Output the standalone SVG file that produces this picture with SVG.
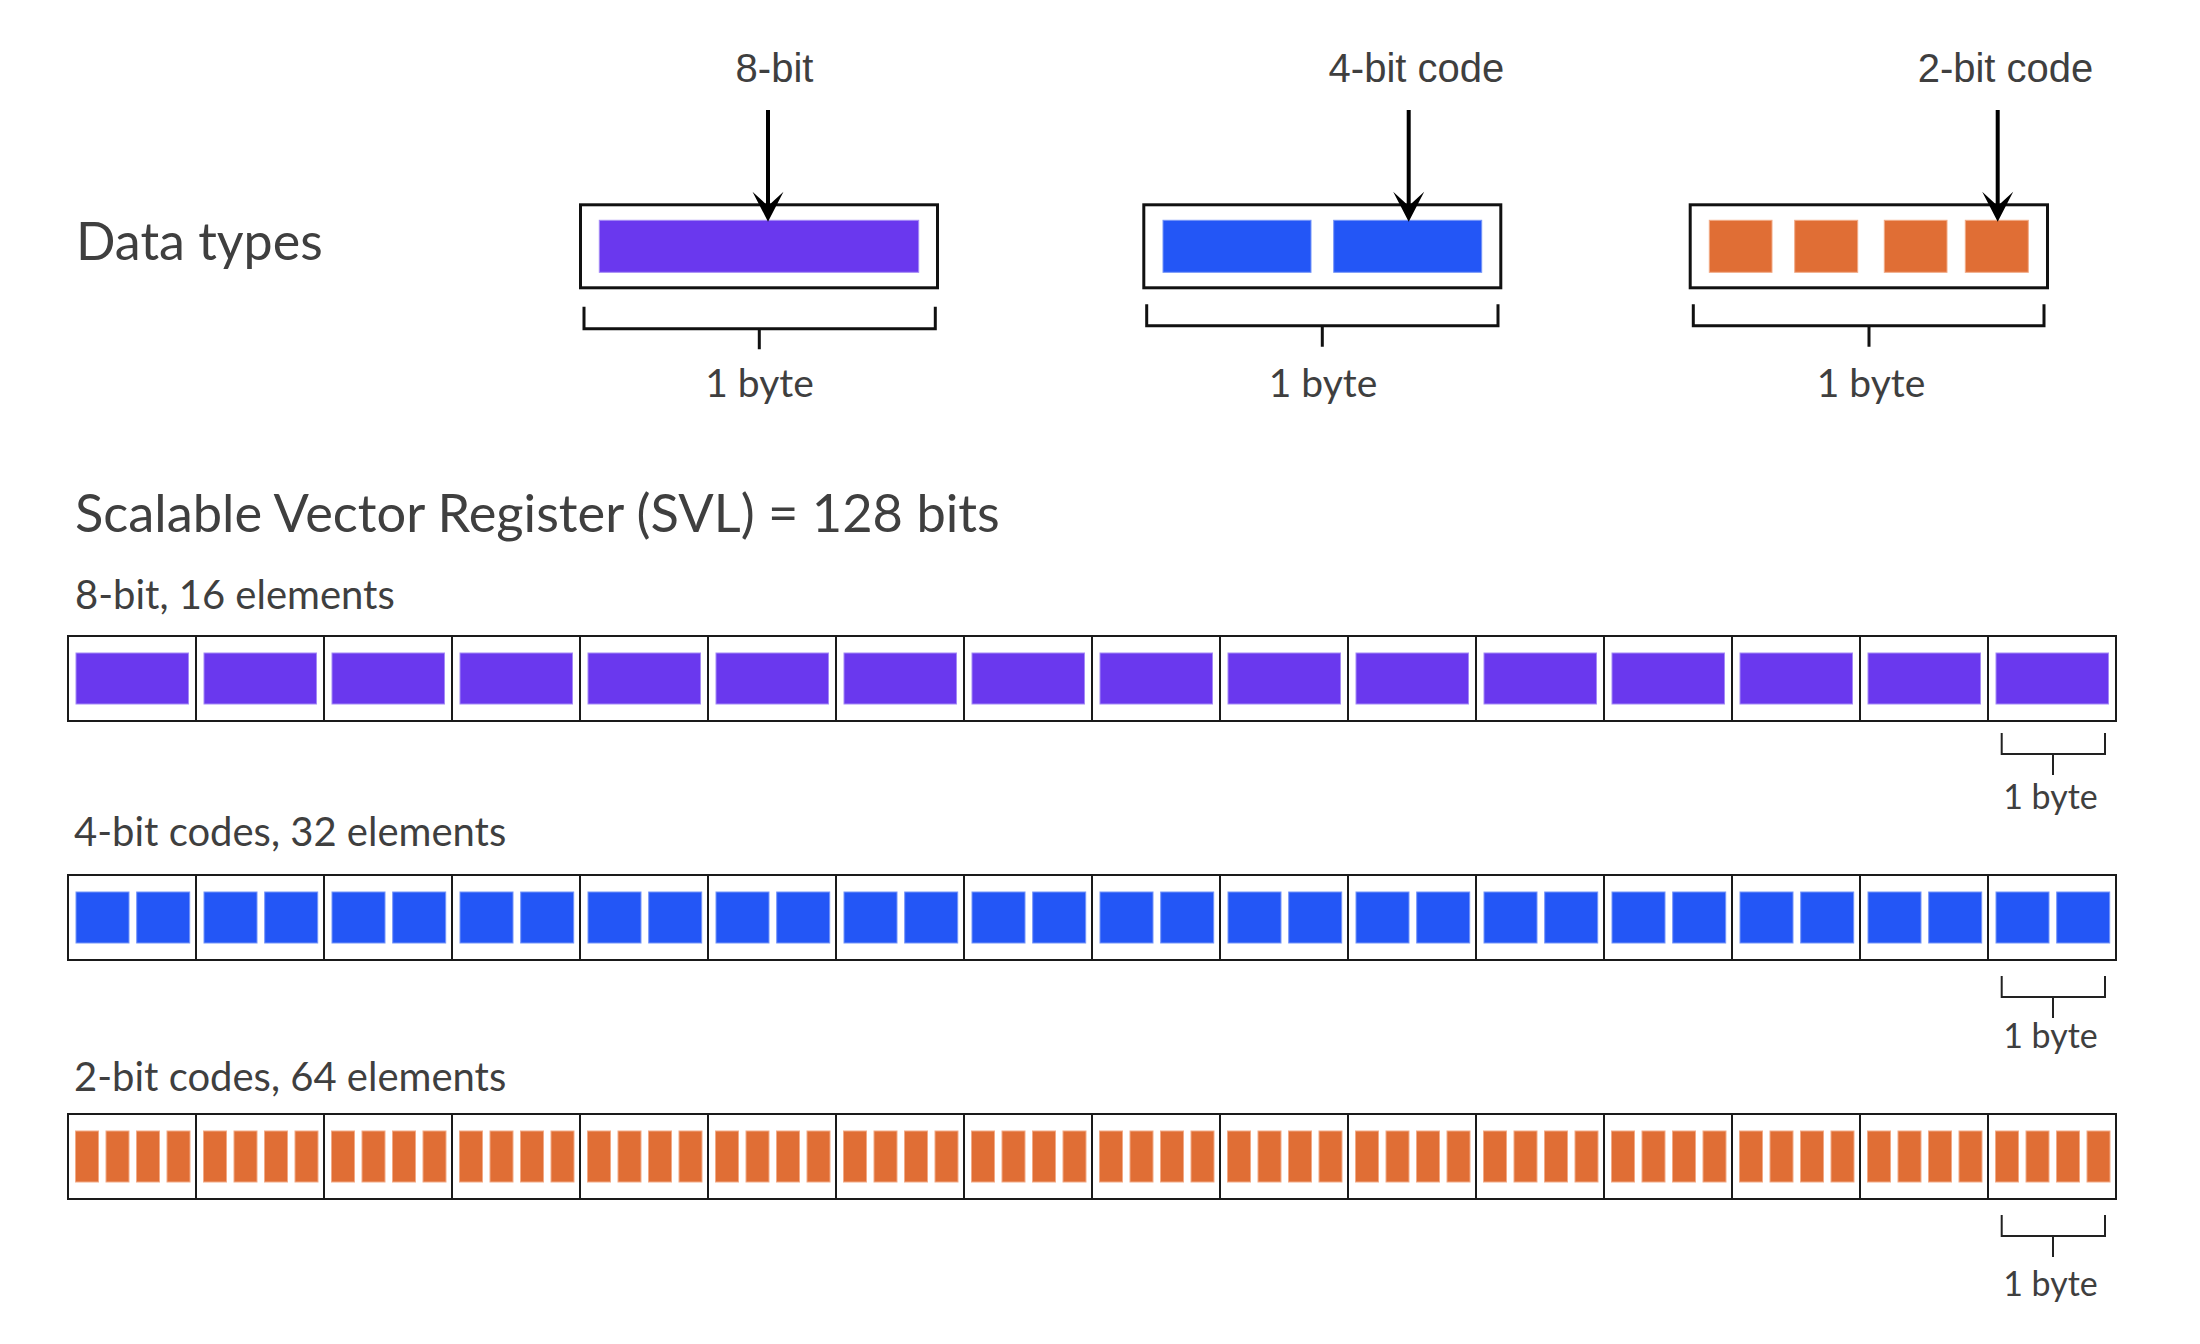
<svg xmlns="http://www.w3.org/2000/svg" width="2200" height="1344" viewBox="0 0 2200 1344">
<style>
.lato{font-family:Lato,"Noto Sans","Liberation Sans",sans-serif;fill:#3f3f3f}
.arial{font-family:"Liberation Sans",Arial,sans-serif;fill:#3f3f3f;font-size:40px;text-anchor:middle}
.h{font-size:52px}
.t{font-size:52.4px}
.sub{font-size:40px}
.b1{font-size:39px;text-anchor:middle}
.b2{font-size:34px;text-anchor:middle}
.box{fill:#fff;stroke:#111;stroke-width:3}
.cell{fill:#fff;stroke:#1a1a1a;stroke-width:2}
.p{fill:#6a38ee;stroke:#a48af6;stroke-width:1}
.bl{fill:#2356f6;stroke:#7595f8;stroke-width:1}
.o{fill:#e06e35;stroke:#f2aa86;stroke-width:1}
.br{fill:none;stroke:#111;stroke-width:3}
.brs{fill:none;stroke:#222;stroke-width:2}
.arr{fill:none;stroke:#000;stroke-width:4}
</style>
<defs>
<marker id="ah" markerUnits="userSpaceOnUse" viewBox="-16 -16 32 32" markerWidth="32" markerHeight="32" refX="0" refY="0" orient="auto">
<path d="M15.7,0 L-14.3,-15.5 L0,0 L-14.3,15.5 Z" fill="#000"/>
</marker>
<g id="c8"><rect class="cell" x="0" y="0" width="128" height="85"/><rect class="p" x="8" y="17" width="112.5" height="51"/></g>
<g id="c4"><rect class="cell" x="0" y="0" width="128" height="85"/><rect class="bl" x="8" y="17" width="53" height="51"/><rect class="bl" x="68.7" y="17" width="53" height="51"/></g>
<g id="c2"><rect class="cell" x="0" y="0" width="128" height="85"/><rect class="o" x="7.5" y="17" width="23" height="51"/><rect class="o" x="38" y="17" width="23" height="51"/><rect class="o" x="68.5" y="17" width="23" height="51"/><rect class="o" x="99" y="17" width="23" height="51"/></g>
</defs>
<rect width="2200" height="1344" fill="#fff"/>

<g id="labels">
<text class="lato h" x="76" y="260">Data types</text>
<text class="lato t" x="75" y="531.5">Scalable Vector Register (SVL) = 128 bits</text>
<text class="lato sub" x="75" y="609">8-bit, 16 elements</text>
<text class="lato sub" x="74" y="846">4-bit codes, 32 elements</text>
<text class="lato sub" x="74" y="1090.5">2-bit codes, 64 elements</text>
</g>

<g id="type8">
<text class="arial" x="774.5" y="82">8-bit</text>
<rect class="box" x="580.5" y="204.8" width="357" height="83"/>
<rect class="p" x="599.3" y="220.3" width="319.4" height="52"/>
<path class="br" d="M584,306.7 V328.7 H935.3 V306.7 M759.3,328.7 V349.3"/>
<text class="lato b1" x="759.5" y="397">1 byte</text>
</g>

<g id="type4">
<text class="arial" x="1416.4" y="82">4-bit code</text>
<rect class="box" x="1143.8" y="204.8" width="357" height="83"/>
<rect class="bl" x="1163" y="220.3" width="148" height="52"/>
<rect class="bl" x="1333.7" y="220.3" width="148" height="52"/>
<path class="br" d="M1146.7,304.3 V325.7 H1498 V304.3 M1322.3,325.7 V346.7"/>
<text class="lato b1" x="1323" y="397">1 byte</text>
</g>

<g id="type2">
<text class="arial" x="2005.5" y="82">2-bit code</text>
<rect class="box" x="1690.2" y="204.8" width="357.3" height="83"/>
<rect class="o" x="1709.3" y="220.3" width="62.7" height="52"/>
<rect class="o" x="1794.7" y="220.3" width="63" height="52"/>
<rect class="o" x="1884.3" y="220.3" width="62.7" height="52"/>
<rect class="o" x="1965.3" y="220.3" width="63" height="52"/>
<path class="br" d="M1693.3,304.3 V325.7 H2044 V304.3 M1869,325.7 V346.7"/>
<text class="lato b1" x="1871" y="397">1 byte</text>
</g>

<g id="reg8">
<use href="#c8" x="68" y="636"/><use href="#c8" x="196" y="636"/><use href="#c8" x="324" y="636"/><use href="#c8" x="452" y="636"/>
<use href="#c8" x="580" y="636"/><use href="#c8" x="708" y="636"/><use href="#c8" x="836" y="636"/><use href="#c8" x="964" y="636"/>
<use href="#c8" x="1092" y="636"/><use href="#c8" x="1220" y="636"/><use href="#c8" x="1348" y="636"/><use href="#c8" x="1476" y="636"/>
<use href="#c8" x="1604" y="636"/><use href="#c8" x="1732" y="636"/><use href="#c8" x="1860" y="636"/><use href="#c8" x="1988" y="636"/>
<path class="brs" d="M2001.7,733 V754 H2105 V733 M2053,754 V775"/>
<text class="lato b2" x="2050.5" y="809">1 byte</text>
</g>

<g id="reg4">
<use href="#c4" x="68" y="875"/><use href="#c4" x="196" y="875"/><use href="#c4" x="324" y="875"/><use href="#c4" x="452" y="875"/>
<use href="#c4" x="580" y="875"/><use href="#c4" x="708" y="875"/><use href="#c4" x="836" y="875"/><use href="#c4" x="964" y="875"/>
<use href="#c4" x="1092" y="875"/><use href="#c4" x="1220" y="875"/><use href="#c4" x="1348" y="875"/><use href="#c4" x="1476" y="875"/>
<use href="#c4" x="1604" y="875"/><use href="#c4" x="1732" y="875"/><use href="#c4" x="1860" y="875"/><use href="#c4" x="1988" y="875"/>
<path class="brs" d="M2001.7,976 V997 H2105 V976 M2053,997 V1018"/>
<text class="lato b2" x="2050.5" y="1047.5">1 byte</text>
</g>

<g id="reg2">
<use href="#c2" x="68" y="1114"/><use href="#c2" x="196" y="1114"/><use href="#c2" x="324" y="1114"/><use href="#c2" x="452" y="1114"/>
<use href="#c2" x="580" y="1114"/><use href="#c2" x="708" y="1114"/><use href="#c2" x="836" y="1114"/><use href="#c2" x="964" y="1114"/>
<use href="#c2" x="1092" y="1114"/><use href="#c2" x="1220" y="1114"/><use href="#c2" x="1348" y="1114"/><use href="#c2" x="1476" y="1114"/>
<use href="#c2" x="1604" y="1114"/><use href="#c2" x="1732" y="1114"/><use href="#c2" x="1860" y="1114"/><use href="#c2" x="1988" y="1114"/>
<path class="brs" d="M2001.7,1215 V1236 H2105 V1215 M2053,1236 V1257"/>
<text class="lato b2" x="2050.5" y="1296">1 byte</text>
</g>

<g id="connectors">
<path class="arr" d="M768,110 V206" marker-end="url(#ah)"/>
<path class="arr" d="M1408.7,110 V206" marker-end="url(#ah)"/>
<path class="arr" d="M1997.7,110 V206" marker-end="url(#ah)"/>
</g>
</svg>
